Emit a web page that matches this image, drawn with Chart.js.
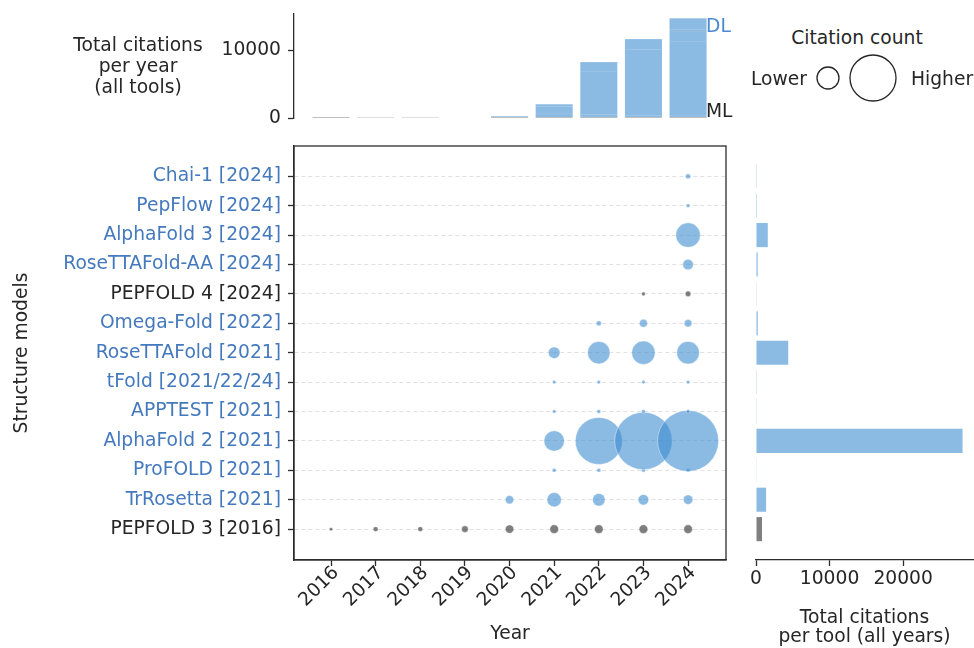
<!DOCTYPE html>
<html>
<head>
<meta charset="utf-8">
<script src="https://cdn.jsdelivr.net/npm/chart.js@4.4.1/dist/chart.umd.min.js"></script>
<style>
  html, body { margin: 0; padding: 0; background: #fff; }
  body { width: 974px; height: 648px; position: relative; overflow: hidden; font-family: 'DejaVu Sans', sans-serif; color: #262626; }
  canvas { position: absolute; }
  .txt { position: absolute; font-size: 18.7px; line-height: 21px; white-space: nowrap; }
</style>
</head>
<body>
<canvas id="topChart" width="740" height="140" style="left:0;top:0"></canvas>
<canvas id="mainChart" width="740" height="508" style="left:0;top:140px"></canvas>
<canvas id="sideChart" width="234" height="508" style="left:740px;top:140px"></canvas>

<div class="txt" style="left:38px;top:34px;width:200px;text-align:center">Total citations<br>per year<br>(all tools)</div>
<div class="txt" style="left:706px;top:15px;color:#4a8ad0">DL</div>
<div class="txt" style="left:706px;top:100px">ML</div>
<div class="txt" style="left:757px;top:27px;width:200px;text-align:center">Citation count</div>
<div class="txt" style="left:707px;top:68px;width:100px;text-align:right">Lower</div>
<div class="txt" style="left:911px;top:68px">Higher</div>
<svg style="position:absolute;left:800px;top:50px" width="110" height="56">
  <circle cx="28" cy="28" r="11" fill="none" stroke="#262626" stroke-width="1.3"/>
  <circle cx="73" cy="28" r="23" fill="none" stroke="#262626" stroke-width="1.3"/>
</svg>

<script>
// citations per year, one array per tool (2016 .. 2024)
const years = [2016, 2017, 2018, 2019, 2020, 2021, 2022, 2023, 2024];
const tools = ['Chai-1 [2024]', 'PepFlow [2024]', 'AlphaFold 3 [2024]', 'RoseTTAFold-AA [2024]',
  'PEPFOLD 4 [2024]', 'Omega-Fold [2022]', 'RoseTTAFold [2021]', 'tFold [2021/22/24]',
  'APPTEST [2021]', 'AlphaFold 2 [2021]', 'ProFOLD [2021]', 'TrRosetta [2021]', 'PEPFOLD 3 [2016]'];
const kinds = ['DL', 'DL', 'DL', 'DL', 'ML', 'DL', 'DL', 'DL', 'DL', 'DL', 'DL', 'DL', 'ML'];

const chai1         = [0, 0, 0, 0, 0, 0, 0, 0, 30];
const pepflow       = [0, 0, 0, 0, 0, 0, 0, 0, 10];
const alphafold3    = [0, 0, 0, 0, 0, 0, 0, 0, 1600];
const rosettafoldAA = [0, 0, 0, 0, 0, 0, 0, 0, 230];
const pepfold4      = [0, 0, 0, 0, 0, 0, 0, 10, 40];
const omegafold     = [0, 0, 0, 0, 0, 0, 30, 110, 100];
const rosettafold   = [0, 0, 0, 0, 0, 290, 1310, 1440, 1340];
const tfold         = [0, 0, 0, 0, 0, 8, 8, 8, 8];
const apptest       = [0, 0, 0, 0, 0, 8, 10, 12, 10];
const alphafold2    = [0, 0, 0, 0, 0, 1070, 6380, 9670, 10960];
const profold       = [0, 0, 0, 0, 0, 12, 12, 12, 12];
const trrosetta     = [0, 0, 0, 0, 130, 480, 350, 230, 180];
const pepfold3      = [6, 28, 28, 67, 130, 140, 140, 140, 140];

const series = [chai1, pepflow, alphafold3, rosettafoldAA, pepfold4, omegafold, rosettafold,
  tfold, apptest, alphafold2, profold, trrosetta, pepfold3];
const totals = series.map(s => s.reduce((a, b) => a + b, 0));

const topTicks = [0, 10000];
const sideTicks = [0, 10000, 20000];

const ink = '#262626';
const axisColor = '#2b2b2b';
const dlFill = 'rgba(62,140,208,0.6)';
const mlBubble = 'rgba(90,90,90,0.78)';
const mlBar = '#808080';
const dlText = '#4479bd';

const FS = 18.7;
Chart.defaults.font.family = "'DejaVu Sans', sans-serif";
Chart.defaults.font.size = FS;
Chart.defaults.color = ink;
Chart.defaults.animation = false;
Chart.defaults.devicePixelRatio = 1;

const font = { size: FS, family: "'DejaVu Sans', sans-serif", lineHeight: 1.05 };
const xMin = 2015.17, xMax = 2024.85;
const rowMin = -1.03, rowMax = 13.05;

// fixed axis size, no extra label padding pushed into the layout
const fixWidth = w => s => { s.width = w; s.paddingTop = 0; s.paddingBottom = 0; };
const fixHeight = h => s => { s.height = h; s.paddingLeft = 0; s.paddingRight = 0; };

// frame around main plot
const frame = {
  id: 'frame',
  afterDraw(chart) {
    const { ctx, chartArea: a } = chart;
    ctx.save();
    ctx.strokeStyle = axisColor;
    ctx.lineWidth = 1.3;
    ctx.strokeRect(a.left, a.top, a.right - a.left, a.bottom - a.top);
    ctx.restore();
  }
};

// top: stacked yearly citations
const stackOrder = tools.map((t, i) => i).reverse();
new Chart(document.getElementById('topChart'), {
  type: 'bar',
  data: {
    datasets: stackOrder.map(i => ({
      label: tools[i],
      data: years.map((yr, j) => ({ x: yr, y: series[i][j] })),
      backgroundColor: kinds[i] === 'DL' ? dlFill : mlBar,
      borderWidth: 0,
      barPercentage: 0.83,
      categoryPercentage: 1,
      stack: 'all'
    }))
  },
  options: {
    responsive: false,
    layout: { autoPadding: false, padding: { top: 14, right: 14, bottom: 22, left: 0 } },
    scales: {
      x: { type: 'linear', min: xMin, max: xMax, offset: false, stacked: true, display: false },
      y: {
        stacked: true, min: 0, max: 15300,
        afterFit: fixWidth(294),
        afterBuildTicks: s => { s.ticks = topTicks.map(v => ({ value: v })); },
        ticks: { font, color: ink, padding: 7, callback: v => String(v) },
        grid: { drawOnChartArea: false, tickLength: 6, tickColor: axisColor, tickWidth: 1.3 },
        border: { color: axisColor, width: 1.3 }
      }
    },
    plugins: { legend: { display: false }, tooltip: { enabled: false } }
  }
});

// main bubble chart
const radius = c => Math.sqrt(c / 12.6) + 1.0;
new Chart(document.getElementById('mainChart'), {
  type: 'bubble',
  data: {
    datasets: tools.map((t, i) => ({
      label: t,
      data: years.map((yr, j) => ({ x: yr, y: i, r: radius(series[i][j]), c: series[i][j] }))
                 .filter(p => p.c > 0),
      backgroundColor: kinds[i] === 'DL' ? dlFill : mlBubble,
      borderColor: 'rgba(255,255,255,0.4)',
      borderWidth: 1
    }))
  },
  options: {
    responsive: false,
    layout: { autoPadding: false, padding: { top: 6, right: 14, bottom: 0, left: 0 } },
    scales: {
      x: {
        type: 'linear', min: xMin, max: xMax, offset: false,
        afterFit: fixHeight(88),
        afterBuildTicks: s => { s.ticks = years.map(v => ({ value: v })); },
        ticks: { font, color: ink, minRotation: 45, maxRotation: 45, autoSkip: false,
                 padding: -3, labelOffset: 5, callback: v => String(v) },
        grid: { drawOnChartArea: false, tickLength: 6, tickColor: axisColor, tickWidth: 1.3 },
        border: { color: axisColor, width: 1.3 },
        title: { display: true, text: 'Year', font, color: ink, padding: { top: 0, bottom: 4.2 } }
      },
      y: {
        type: 'linear', reverse: true, min: rowMin, max: rowMax, offset: false,
        afterFit: fixWidth(294),
        afterBuildTicks: s => { s.ticks = tools.map((t, i) => ({ value: i })); },
        ticks: {
          font, padding: 7,
          color: ctx => kinds[ctx.tick.value] === 'ML' ? ink : dlText,
          callback: v => tools[v]
        },
        grid: { color: '#d9d9d9', lineWidth: 0.8, tickLength: 6, tickColor: axisColor, tickWidth: 1.3 },
        border: { color: axisColor, width: 1.3, dash: [4, 3] },
        title: { display: true, text: 'Structure models', font, color: ink, padding: { top: 12.2, bottom: 0 } }
      }
    },
    plugins: { legend: { display: false }, tooltip: { enabled: false } }
  },
  plugins: [frame]
});

// right: total per tool
new Chart(document.getElementById('sideChart'), {
  type: 'bar',
  data: {
    datasets: [{
      data: tools.map((t, i) => ({ x: totals[i], y: i })),
      backgroundColor: kinds.map(k => k === 'DL' ? dlFill : mlBar),
      borderWidth: 0,
      barPercentage: 0.82,
      categoryPercentage: 1
    }]
  },
  options: {
    responsive: false,
    indexAxis: 'y',
    layout: { autoPadding: false, padding: { top: 6, right: 1, bottom: 0, left: 16 } },
    scales: {
      y: { type: 'linear', reverse: true, min: rowMin, max: rowMax, offset: false, display: false },
      x: {
        type: 'linear', min: 0, max: 29500,
        afterFit: fixHeight(88),
        afterBuildTicks: s => { s.ticks = sideTicks.map(v => ({ value: v })); },
        ticks: { font, color: ink, maxRotation: 0, padding: 3, callback: v => String(v) },
        grid: { drawOnChartArea: false, tickLength: 6, tickColor: axisColor, tickWidth: 1.3 },
        border: { color: axisColor, width: 1.3 },
        title: { display: true, text: ['Total citations', 'per tool (all years)'], font, color: ink,
                 padding: { top: 0, bottom: 0.6 } }
      }
    },
    plugins: { legend: { display: false }, tooltip: { enabled: false } }
  }
});
</script>
</body>
</html>
